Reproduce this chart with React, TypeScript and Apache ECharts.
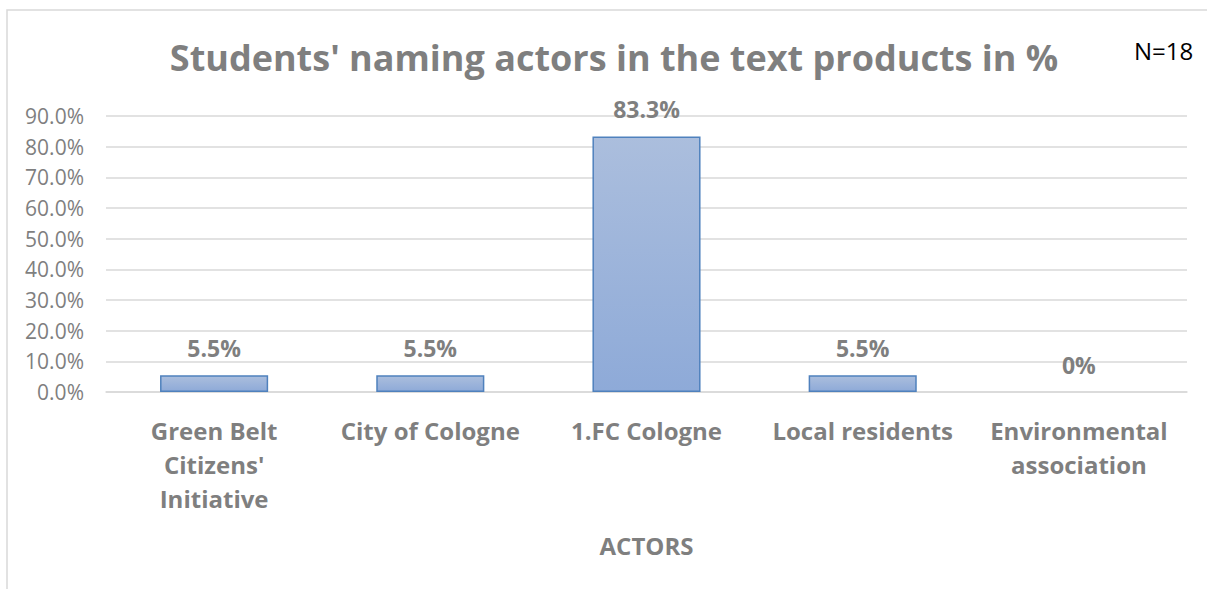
import React, { useEffect, useRef } from "react";
import * as echarts from "echarts";

const categories = [
  "Green Belt\nCitizens'\nInitiative",
  "City of Cologne",
  "1.FC Cologne",
  "Local residents",
  "Environmental\nassociation",
];
const values = [5.5, 5.5, 83.3, 5.5, 0];
const valueLabels = ["5.5%", "5.5%", "83.3%", "5.5%", "0%"];
const yTicks = [0, 10, 20, 30, 40, 50, 60, 70, 80, 90];

const FONT = "'Open Sans', sans-serif";
const GRAY = "#7f7f7f";

export default function App() {
  const ref = useRef<HTMLDivElement>(null);
  useEffect(() => {
    if (!ref.current) return;
    const chart = echarts.init(ref.current, undefined, { renderer: "svg" });
    chart.setOption({
      animation: false,
      backgroundColor: "#ffffff",
      title: {
        text: "Students' naming actors in the text products in %",
        left: 609,
        textAlign: "center",
        top: 34,
        textStyle: { fontFamily: FONT, fontWeight: "bold", fontSize: 36, color: GRAY },
      },
      graphic: [
        {
          type: "rect",
          shape: { x: 7, y: 10, width: 1300, height: 700 },
          style: { fill: "none", stroke: "#d9d9d9", lineWidth: 1.5 },
          silent: true,
        },
        {
          type: "text",
          left: 1134,
          top: 38,
          style: { text: "N=18", fontFamily: FONT, fontSize: 24, fill: "#000000" },
        },
      ],
      grid: { left: 106, right: 20, top: 116, bottom: 197 },
      xAxis: {
        type: "category",
        data: categories,
        name: "ACTORS",
        nameLocation: "middle",
        nameGap: 141,
        nameTextStyle: { fontFamily: FONT, fontWeight: "bold", fontSize: 24, color: GRAY },
        axisLine: { lineStyle: { color: "#d9d9d9", width: 1.5 } },
        axisTick: { show: false },
        axisLabel: {
          interval: 0,
          margin: 21,
          fontFamily: FONT,
          fontWeight: "bold",
          fontSize: 24,
          lineHeight: 34,
          color: GRAY,
        },
      },
      yAxis: {
        type: "value",
        min: yTicks[0],
        max: yTicks[yTicks.length - 1],
        interval: 10,
        axisLine: { show: false },
        axisTick: { show: false },
        splitLine: { lineStyle: { color: "#d9d9d9", width: 1.5 } },
        axisLabel: {
          margin: 22,
          fontFamily: FONT,
          fontSize: 21,
          color: GRAY,
          formatter: (v: number) => v.toFixed(1) + "%",
        },
      },
      series: [
        {
          type: "bar",
          data: values.map((v) =>
            v === 0 ? { value: v, itemStyle: { borderWidth: 0, opacity: 0 } } : v
          ),
          barWidth: "50%",
          itemStyle: {
            color: new echarts.graphic.LinearGradient(0, 0, 0, 1, [
              { offset: 0, color: "#abbedd" },
              { offset: 1, color: "#8eaad8" },
            ]),
            borderColor: "#4f81bd",
            borderWidth: 1.5,
          },
          label: {
            show: true,
            position: "top",
            distance: 16,
            fontFamily: FONT,
            fontWeight: "bold",
            fontSize: 23,
            color: GRAY,
            opacity: 1,
            formatter: (p: any) => valueLabels[p.dataIndex],
          },
        },
      ],
    });
    return () => chart.dispose();
  }, []);
  return (
    <div
      ref={ref}
      style={{ position: "fixed", left: 0, top: 0, width: 1207, height: 589 }}
    />
  );
}
